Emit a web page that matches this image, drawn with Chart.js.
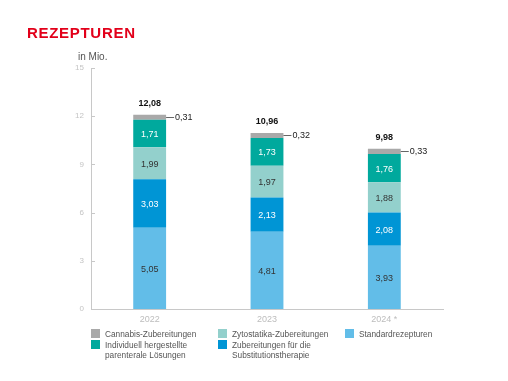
<!DOCTYPE html>
<html><head><meta charset="utf-8">
<script src="https://cdn.jsdelivr.net/npm/chart.js@4/dist/chart.umd.min.js"></script>
<style>
html,body{margin:0;padding:0;background:#fff;width:508px;height:381px;overflow:hidden;font-family:"Liberation Sans",Arial,Helvetica,sans-serif;}
#wrap{position:relative;width:508px;height:381px;}
#c{position:absolute;left:0;top:0;}
#title{position:absolute;left:27px;top:24px;font-size:15px;font-weight:bold;color:#e2001a;letter-spacing:0.7px;}
#unit{position:absolute;left:78px;top:51px;font-size:10px;color:#555;}
.lg{position:absolute;font-size:8.3px;line-height:10px;color:#555;}
.lg i{position:absolute;left:0;top:0;width:9px;height:9px;}
.lg span{position:absolute;left:14px;top:0;white-space:nowrap;}
</style></head>
<body><div id="wrap">
<canvas id="c" width="508" height="381"></canvas>
<div id="title">REZEPTUREN</div>
<div id="unit">in Mio.</div>
<div id="legend"></div>
</div>
<script>
const categories = ['2022', '2023', '2024 *'];
const seriesNames = ['Cannabis-Zubereitungen', 'Individuell hergestellte<br>parenterale Lösungen', 'Zytostatika-Zubereitungen', 'Zubereitungen für die<br>Substitutionstherapie', 'Standardrezepturen'];
const standard = [5.05, 4.81, 3.93];
const substitution = [3.03, 2.13, 2.08];
const zytostatika = [1.99, 1.97, 1.88];
const individuell = [1.71, 1.73, 1.76];
const cannabis = [0.31, 0.32, 0.33];
const totals = [12.08, 10.96, 9.98];
const yTicks = [0, 3, 6, 9, 12, 15];

const colors = {cannabis:'#a9a9a9', individuell:'#00a99d', zyto:'#93d0cc', subst:'#0095d5', standard:'#62bde8'};

// legend (HTML)
const legendItems = [
  {name: seriesNames[0], color: colors.cannabis, x: 91, y: 329},
  {name: seriesNames[1], color: colors.individuell, x: 91, y: 339.5},
  {name: seriesNames[2], color: colors.zyto, x: 218, y: 329},
  {name: seriesNames[3], color: colors.subst, x: 218, y: 339.5},
  {name: seriesNames[4], color: colors.standard, x: 345, y: 329}
];
const lg = document.getElementById('legend');
legendItems.forEach(it => {
  const d = document.createElement('div');
  d.className = 'lg';
  d.style.left = it.x + 'px'; d.style.top = it.y + 'px';
  d.innerHTML = '<i style="background:' + it.color + '"></i><span>' + it.name + '</span>';
  lg.appendChild(d);
});

const fmt = v => v.toFixed(2).replace('.', ',');
const FONT = '"Liberation Sans", Arial, Helvetica, sans-serif';

const labelPlugin = {
  id: 'labels',
  afterDatasetsDraw(chart) {
    const ctx = chart.ctx;
    const ys = chart.scales.y;
    ctx.save();
    // tick stubs inside the axis
    ctx.strokeStyle = '#c8c8c8'; ctx.lineWidth = 1;
    yTicks.forEach(v => {
      const y = Math.round(ys.getPixelForValue(v)) + 0.5;
      ctx.beginPath(); ctx.moveTo(chart.chartArea.left, y); ctx.lineTo(chart.chartArea.left + 4, y); ctx.stroke();
    });
    ctx.font = '9px ' + FONT;
    ctx.textAlign = 'center'; ctx.textBaseline = 'middle';
    chart.data.datasets.forEach((ds, di) => {
      const meta = chart.getDatasetMeta(di);
      meta.data.forEach((el, i) => {
        const v = ds.data[i];
        const top = el.y, base = el.base;
        if (ds.key === 'cannabis') {
          const right = el.x + el.width / 2;
          const yy = Math.round((top + base) / 2) + 0.5;
          ctx.strokeStyle = '#666';
          ctx.beginPath(); ctx.moveTo(right, yy); ctx.lineTo(right + 8, yy); ctx.stroke();
          ctx.fillStyle = '#222'; ctx.textAlign = 'left';
          ctx.fillText(fmt(v), right + 9, (top + base) / 2 + 0.5);
          ctx.textAlign = 'center';
          // total
          ctx.font = 'bold 9px ' + FONT;
          ctx.fillStyle = '#111';
          ctx.fillText(fmt(totals[i]), el.x, top - 11);
          ctx.font = '9px ' + FONT;
        } else {
          ctx.fillStyle = ds.labelColor;
          ctx.fillText(fmt(v), el.x, (top + base) / 2 + 1);
        }
      });
    });
    ctx.restore();
  }
};

const mk = (key, label, data, color, labelColor) => ({key, label, data, backgroundColor: color, labelColor, borderWidth: 0, barPercentage: 0.28, categoryPercentage: 1, stack: 's'});

new Chart(document.getElementById('c'), {
  type: 'bar',
  data: {
    labels: categories,
    datasets: [
      mk('standard', 'Standardrezepturen', standard, colors.standard, '#333'),
      mk('subst', 'Zubereitungen für die Substitutionstherapie', substitution, colors.subst, '#fff'),
      mk('zyto', 'Zytostatika-Zubereitungen', zytostatika, colors.zyto, '#333'),
      mk('individuell', 'Individuell hergestellte parenterale Lösungen', individuell, colors.individuell, '#fff'),
      mk('cannabis', 'Cannabis-Zubereitungen', cannabis, colors.cannabis, '#222')
    ]
  },
  options: {
    responsive: false,
    animation: false,
    devicePixelRatio: 1,
    layout: {padding: {left: 0, right: 65, top: 68, bottom: 52}},
    plugins: {legend: {display: false}, tooltip: {enabled: false}},
    scales: {
      x: {
        stacked: true,
        grid: {display: false, drawTicks: false},
        border: {color: '#c8c8c8', width: 1},
        ticks: {color: '#bdbdbd', font: {size: 9, family: FONT}, padding: 5},
        afterFit(s) { s.height = 20; }
      },
      y: {
        stacked: true,
        min: 0, max: 15,
        afterBuildTicks(s) { s.ticks = yTicks.map(v => ({value: v})); },
        grid: {display: false, drawTicks: false},
        border: {color: '#c8c8c8', width: 1},
        ticks: {color: '#c4c4c4', font: {size: 8, family: FONT}, padding: 7},
        afterFit(s) { s.width = 91; }
      }
    }
  },
  plugins: [labelPlugin]
});
</script>
</body></html>
